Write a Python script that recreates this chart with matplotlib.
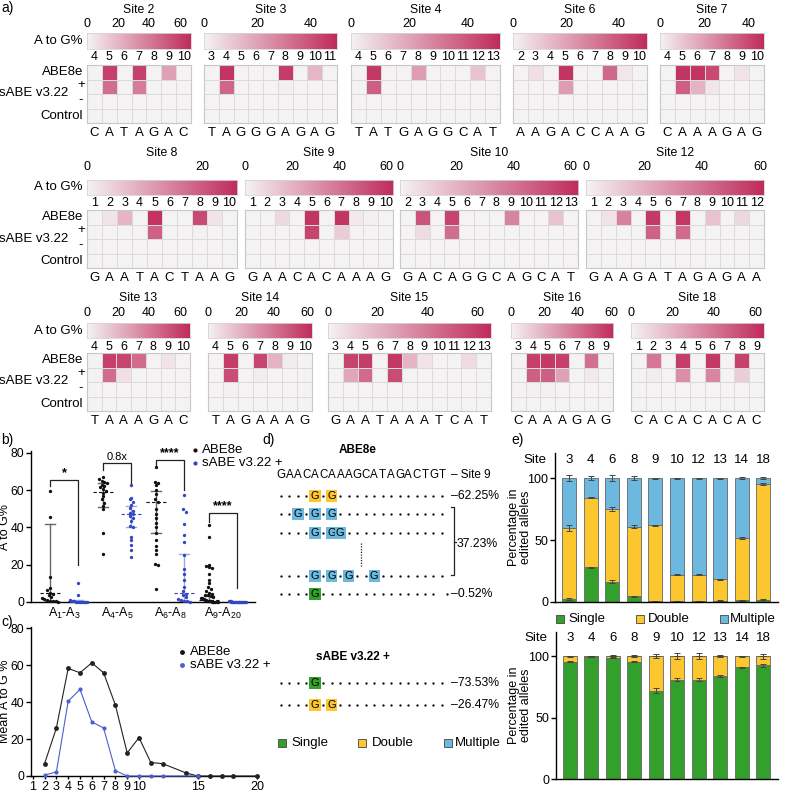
import matplotlib
matplotlib.use("Agg")
import matplotlib.pyplot as plt
import numpy as np
from matplotlib.colors import LinearSegmentedColormap

plt.rcParams["font.family"] = ["Liberation Sans", "DejaVu Sans"]
plt.rcParams["mathtext.fontset"] = "custom"
plt.rcParams["mathtext.rm"] = "Liberation Sans"
plt.rcParams["mathtext.it"] = "Liberation Sans:italic"

# ---------------- panel a: A to G % per position ----------------
site_names = ["Site 2", "Site 3", "Site 4", "Site 6", "Site 7",
              "Site 8", "Site 9", "Site 10", "Site 12",
              "Site 13", "Site 14", "Site 15", "Site 16", "Site 18"]
site_first_pos = [4, 3, 4, 2, 4, 1, 1, 2, 1, 4, 4, 3, 3, 1]
site_vmax = [67, 50, 51, 50.5, 47, 26, 62.6, 62.8, 61.4, 66.5, 63, 65.6, 61, 64]
site_seq = ["CATAGAC", "TAGGGAGAG", "TATGAGGCAT", "AAGACCAAG", "CAAAGAG",
            "GAATACTAAG", "GAACACAAAG", "GACAGGCAGCAT", "GAAGATAGAGAA",
            "TAAAGAC", "TAGAAAG", "GAATAAATCAT", "CAAAGAG", "CACACACAC"]
abe8e = [
    [0, 60, 0, 60, 0, 28, 0],
    [0, 48, 0, 0, 0, 46, 0, 15, 0],
    [0, 48, 0, 0, 22, 0, 0, 0, 12, 0],
    [0, 5, 0, 48, 0, 0, 35, 3, 0],
    [0, 45, 45, 40, 0, 4, 0],
    [0, 2, 8, 0, 25, 0, 0, 22, 2, 0],
    [0, 0, 8, 0, 60, 0, 60, 3, 1, 0],
    [0, 50, 0, 55, 0, 0, 0, 35, 0, 0, 15, 0],
    [0, 5, 35, 0, 57, 0, 58, 0, 15, 0, 8, 0],
    [0, 60, 58, 45, 0, 5, 0],
    [0, 58, 0, 55, 20, 2, 0],
    [0, 58, 60, 0, 62, 20, 5, 0, 0, 8, 0],
    [0, 55, 57, 55, 0, 40, 0],
    [0, 40, 0, 58, 0, 60, 0, 57, 0],
]
sabe_plus = [
    [0, 45, 0, 40, 0, 0, 0],
    [0, 35, 0, 0, 0, 1, 0, 0, 0],
    [0, 38, 0, 0, 0, 0, 0, 0, 0, 0],
    [0, 0, 0, 22, 0, 0, 0, 0, 0],
    [0, 35, 15, 3, 0, 0, 0],
    [0, 0, 0, 0, 19, 0, 0, 0.5, 0, 0],
    [0, 0, 0, 0, 55, 0, 12, 0, 0, 0],
    [0, 7, 0, 42, 0, 0, 0, 0, 0, 0, 0, 0],
    [0, 0, 0, 0, 45, 0, 42, 0, 0, 0, 0, 0],
    [0, 45, 6, 0, 0, 0, 0],
    [0, 52, 0, 2, 0, 0, 0],
    [0, 25, 45, 0, 55, 0, 0, 0, 0, 0, 0],
    [0, 45, 45, 25, 0, 3, 0],
    [0, 2, 0, 32, 0, 35, 0, 12, 0],
]
sabe_minus = [
    [0, 0, 0, 0, 0, 0, 0],
    [0, 0, 0, 0, 0, 0, 0, 0, 0],
    [0, 0, 0, 0, 0, 0, 0, 0, 0, 0],
    [0, 0, 0, 0, 0, 0, 0, 0, 0],
    [0, 0, 0, 0, 0, 0, 0],
    [0, 0, 0, 0, 0, 0, 0, 0, 0, 0],
    [0, 0, 0, 0, 0, 0, 0, 0, 0, 0],
    [0, 0, 0, 0, 0, 0, 0, 0, 0, 0, 0, 0],
    [0, 0, 0, 0, 0, 0, 0, 0, 0, 0, 0, 0],
    [0, 0, 0, 0, 0, 0, 0],
    [0, 1, 0, 0, 0, 0, 0],
    [0, 0, 0, 0, 0, 0, 0, 0, 0, 0, 0],
    [0, 1, 1, 0, 0, 0, 0],
    [0, 0, 0, 0, 0, 0, 0, 0, 0],
]
control = [[0] * len(s) for s in site_seq]
row_labels = ["ABE8e", "+", "sABE v3.22", "-", "Control"]

# ---------------- panel b ----------------
b_categories = ["A$_1$-A$_3$", "A$_4$-A$_5$", "A$_6$-A$_8$", "A$_9$-A$_{20}$"]
b_abe8e = [
    [59.5, 45.5, 13.5, 7.5, 6.5, 5.0, 4.5, 3.5, 2.5, 2.0, 1.5, 1.0, 0.8, 0.5, 0.3, 0.2],
    [67.0, 66.0, 65.0, 64.5, 64.0, 63.0, 62.0, 61.5, 60.5, 59.5, 58.5, 57.0, 55.0, 53.0,
     51.5, 50.0, 37.0, 25.5],
    [72.5, 64.5, 64.0, 63.0, 60.0, 58.0, 55.0, 53.5, 50.0, 47.0, 45.0, 42.5, 40.0, 37.0,
     33.0, 30.0, 28.0, 26.0, 20.5, 20.0, 7.0],
    [41.5, 35.0, 20.0, 19.5, 19.0, 18.0, 15.0, 12.0, 10.0, 8.0, 7.0, 6.0, 5.0, 4.5, 4.0,
     3.5, 3.0, 2.5, 2.0, 2.0, 1.5, 1.5, 1.0, 1.0, 0.8, 0.6, 0.5, 0.4, 0.3, 0.2, 0.1, 0.1,
     0.0, 0.0, 0.0],
]
b_sabe = [
    [10.0, 3.5, 1.0, 0.6, 0.4, 0.3, 0.2, 0.1, 0.1, 0.0, 0.0, 0.0, 0.0, 0.0],
    [62.5, 56.0, 55.0, 53.5, 52.0, 50.5, 49.0, 48.0, 47.0, 46.0, 45.0, 43.5, 41.0, 40.0,
     35.0, 33.0, 30.5, 28.0, 24.0],
    [57.5, 50.0, 48.5, 42.0, 36.0, 32.0, 25.0, 17.5, 15.0, 12.0, 8.0, 6.0, 4.5, 3.5, 2.5,
     1.5, 1.0, 0.5, 0.3, 0.1],
    [0.4, 0.3, 0.3, 0.2, 0.2, 0.2, 0.1, 0.1, 0.1, 0.1, 0.0, 0.0, 0.0, 0.0, 0.0, 0.0, 0.0,
     0.0, 0.0, 0.0],
]
# median, lower, upper
b_abe8e_stats = [(5.0, 0.3, 42.0), (59.2, 51.0, 63.8), (53.4, 36.8, 59.7), (1.0, 0.2, 3.0)]
b_sabe_stats = [(0.3, 0.0, 1.0), (47.0, 40.4, 51.5), (5.0, 0.5, 26.0), (0.1, 0.0, 0.2)]
b_br_top = [65.4, 74.4, 76.0, 47.5]
b_br_left = [62.0, 71.0, 73.3, 43.0]
b_br_right = [19.8, 62.2, 60.0, 7.5]
b_br_label = ["*", "0.8x", "****", "****"]

# ---------------- panel c ----------------
c_pos_abe = [2, 3, 4, 5, 6, 7, 8, 9, 10, 11, 12, 14, 15, 16, 17, 18, 20]
c_mean_abe = [6.7, 26.0, 58.3, 55.9, 61.3, 55.9, 38.4, 12.5, 20.8, 7.3, 6.7, 1.6,
              0, 0, 0, 0, 0]
c_pos_sabe = [2, 3, 4, 5, 6, 7, 8, 9, 10, 11, 12, 15]
c_mean_sabe = [0.5, 2.2, 40.5, 46.9, 29.3, 26.0, 2.9, 0, 0, 0, 0, 0]

# ---------------- panel d ----------------
d_seq = "GAACACAAAGCATAGACTGT"
d_abe_edits = [[5, 7], [3, 5, 7], [5, 7, 8], [5, 7, 9, 12], [5]]
d_abe_kind = ["Double", "Multiple", "Multiple", "Multiple", "Single"]
d_abe_pct = ["62.25%", "", "", "", "0.52%"]
d_multi_pct = "37.23%"
d_sabe_edits = [[5], [5, 7]]
d_sabe_kind = ["Single", "Double"]
d_sabe_pct = ["73.53%", "26.47%"]

# ---------------- panel e ----------------
e_sites = ["3", "4", "6", "8", "9", "10", "12", "13", "14", "18"]
e_top_single = [2.5, 28.0, 16.5, 4.5, 0.5, 0.5, 0.5, 1.0, 1.5, 2.0]
e_top_double = [57.5, 56.5, 58.5, 56.5, 61.5, 21.5, 21.5, 17.5, 50.0, 93.5]
e_top_multi = [40.0, 15.5, 25.0, 39.0, 38.0, 78.0, 78.0, 81.5, 48.5, 4.5]
e_top_err = [[0.5, 0.5, 1.5, 0.5, 0.3, 0.3, 0.3, 0.3, 0.3, 0.5],
             [2.5, 0.5, 1.5, 1.5, 0.5, 0.5, 0.5, 0.5, 0.8, 1.0],
             [2.5, 1.5, 2.5, 1.5, 0.5, 0.5, 0.5, 0.5, 0.8, 0.8]]
e_bot_single = [95.5, 99.5, 98.5, 95.5, 72.0, 81.0, 81.0, 84.0, 91.0, 92.5]
e_bot_double = [4.5, 0.5, 1.5, 4.5, 28.0, 19.0, 19.0, 16.0, 9.0, 7.5]
e_bot_multi = [0, 0, 0, 0, 0, 0, 0, 0, 0, 0]
e_bot_err = [[0.5, 0.3, 0.3, 0.5, 2.0, 1.5, 1.5, 0.5, 0.3, 1.5],
             [0.5, 0.3, 1.0, 1.0, 1.5, 2.5, 2.5, 0.8, 0.5, 2.0],
             [0, 0, 0, 0, 0, 0, 0, 0, 0, 0]]

kind_colors = {"Single": "#33a02c", "Double": "#fcc72e", "Multiple": "#6cb8de"}

# ---------------- figure ----------------
W, H = 796, 792
fig = plt.figure(figsize=(W / 100, H / 100), dpi=100)


def px_axes(x0, y0, x1, y1):
    return fig.add_axes([x0 / W, 1 - y1 / H, (x1 - x0) / W, (y1 - y0) / H])


# layout of the heatmap panel (pixels)
site_px = [(87, 191), (204, 337), (351, 500), (513, 647), (660, 764),
           (87, 237), (245, 393), (400, 578), (586, 764),
           (87, 190), (208, 312), (328, 491), (511, 613), (631, 764)]
site_row = [0, 0, 0, 0, 0, 1, 1, 1, 1, 2, 2, 2, 2, 2]
# title, cbar ticks, cbar top, cbar bottom, positions, heat top, heat bottom, sequence
row_geom = [(10, 24, 33, 49, 57, 65, 123, 133),
            (153, 167, 180, 195, 203, 210, 268, 278),
            (298, 313, 323, 338, 347, 353, 411, 421)]

cmap_a = LinearSegmentedColormap.from_list("atog", ["#f5f2f3", "#c02c5b"])

for k, name in enumerate(site_names):
    ty, tky, cbt, cbb, posy, hmt, hmb, seqy = row_geom[site_row[k]]
    x0, x1 = site_px[k]
    vmax = site_vmax[k]
    n = len(site_seq[k])
    positions = np.arange(site_first_pos[k], site_first_pos[k] + n)

    cax = px_axes(x0, cbt, x1, cbb)
    grad = np.linspace(0, vmax, 256)[None, :]
    cax.imshow(grad, cmap=cmap_a, vmin=0, vmax=vmax, aspect="auto",
               extent=[0, vmax, 0, 1])
    cax.set_xlim(0, vmax)
    cax.set_ylim(0, 1)
    cax.set_xticks([])
    cax.set_yticks([])
    for sp in cax.spines.values():
        sp.set_color("#d4d4d4")
        sp.set_linewidth(0.6)
    off = (cbt - tky) / (cbb - cbt)
    for t in np.arange(0, vmax + 0.01, 20):
        cax.text(t, 1 + off, f"{t:.0f}", transform=cax.get_xaxis_transform(),
                 ha="center", va="center", fontsize=9)
    cax.text(0.5, 1 + (cbt - ty) / (cbb - cbt), name, transform=cax.transAxes,
             ha="center", va="center", fontsize=8.8)

    ax = px_axes(x0, hmt, x1, hmb)
    grid = np.array([abe8e[k], sabe_plus[k], sabe_minus[k], control[k]], float)
    edges = np.arange(n + 1) + site_first_pos[k] - 0.5
    ax.pcolormesh(edges, np.arange(5), grid, cmap=cmap_a, vmin=0, vmax=vmax,
                  edgecolors="#dadada", linewidth=0.6)
    ax.set_xlim(edges[0], edges[-1])
    ax.set_ylim(4, 0)
    ax.set_xticks([])
    ax.set_yticks([])
    for sp in ax.spines.values():
        sp.set_color("#c8c8c8")
        sp.set_linewidth(0.8)
    hh = hmb - hmt
    for p, ch in zip(positions, site_seq[k]):
        ax.text(p, 1 + (hmt - posy) / hh, str(p), transform=ax.get_xaxis_transform(),
                ha="center", va="center", fontsize=9)
        ax.text(p, -(seqy - hmb) / hh, ch, transform=ax.get_xaxis_transform(),
                ha="center", va="center", fontsize=9.5)

# overlay axes for free text (pixel coordinates)
ov = fig.add_axes([0, 0, 1, 1], zorder=10)
ov.set_xlim(0, W)
ov.set_ylim(H, 0)
ov.axis("off")

label_dy = [7.3, 20, 28.5, 35.5, 51]
label_x = [83, 81, 68, 81, 83]
label_ha = ["right", "center", "right", "center", "right"]
for r, (ty, tky, cbt, cbb, posy, hmt, hmb, seqy) in enumerate(row_geom):
    ov.text(82, (cbt + cbb) / 2, "A to G%", ha="right", va="center", fontsize=9.5)
    for lab, dy, lx, ha in zip(row_labels, label_dy, label_x, label_ha):
        ov.text(lx, hmt + dy, lab, ha=ha, va="center", fontsize=9.5)

for lab, (lx, ly) in zip(["a)", "b)", "c)", "d)", "e)"],
                         [(1, 8), (1, 440), (1, 622), (262, 440), (511, 440)]):
    ov.text(lx, ly, lab, ha="left", va="center", fontsize=10)


def style_xy(ax):
    for s in ["top", "right"]:
        ax.spines[s].set_visible(False)
    for s in ["left", "bottom"]:
        ax.spines[s].set_linewidth(1.0)
    ax.tick_params(length=3.5, width=1, labelsize=8.8, pad=1.5)


def swarm(values, step=0.055, vbin=2.2, maxw=0.32):
    values = np.asarray(values, float)
    offs = np.zeros(len(values))
    keys = np.floor(values / vbin).astype(int)
    for key in np.unique(keys):
        idx = np.where(keys == key)[0]
        m = len(idx)
        if m > 1:
            w = min((m - 1) * step, maxw)
            offs[idx] = np.linspace(-w / 2, w / 2, m)
    return offs


# ---------------- panel b ----------------
axb = px_axes(31, 451, 255, 602)
style_xy(axb)
axb.set_xlim(0.377, 4.6)
axb.set_ylim(0, 81)
axb.set_yticks([0, 20, 40, 60, 80])
axb.set_xticks([1, 2, 3, 4])
axb.set_xticklabels(b_categories)
axb.tick_params(axis="x", length=0, pad=3, labelsize=9)
dx = 0.265
for i in range(4):
    for vals, stats, sgn, col, ecol in [(b_abe8e[i], b_abe8e_stats[i], -1, "#111111", "#666666"),
                                        (b_sabe[i], b_sabe_stats[i], 1, "#3346c2", "#9aaae4")]:
        xc = i + 1 + sgn * dx
        med, lo, hi = stats
        axb.plot([xc, xc], [lo, hi], color=ecol, lw=1.0, zorder=1)
        axb.plot([xc - 0.09, xc + 0.09], [lo, lo], color=ecol, lw=1.0, zorder=1)
        axb.plot([xc - 0.09, xc + 0.09], [hi, hi], color=ecol, lw=1.0, zorder=1)
        axb.plot([xc - 0.19, xc + 0.19], [med, med], color=col, lw=0.8,
                 ls=(0, (3, 2)), zorder=2)
        axb.plot(xc + swarm(vals), vals, "o", ms=2.4, color=col, mew=0, zorder=3,
                 clip_on=False)
    xl, xr = i + 1 - dx, i + 1 + dx
    axb.plot([xl, xl, xr, xr], [b_br_left[i], b_br_top[i], b_br_top[i], b_br_right[i]],
             color="#222222", lw=0.9)
    axb.text((xl + xr) / 2, b_br_top[i] + 0.6, b_br_label[i], ha="center", va="bottom",
             fontsize=8 if b_br_label[i] == "0.8x" else 9, fontweight="bold"
             if b_br_label[i] != "0.8x" else "normal")
ov.text(5.5, 527, "A to G%", rotation=90, ha="center", va="center", fontsize=9)
ov.plot([195], [450], "o", ms=3, color="#111111", mew=0)
ov.text(202, 450, "ABE8e", ha="left", va="center", fontsize=9.5)
ov.plot([195], [463], "o", ms=3, color="#3346c2", mew=0)
ov.text(202, 463, "sABE v3.22 +", ha="left", va="center", fontsize=9.5)

# ---------------- panel c ----------------
axc = px_axes(31, 627, 258, 776)
style_xy(axc)
axc.set_xlim(0.85, 20.08)
axc.set_ylim(0, 80.7)
axc.set_yticks([0, 20, 40, 60, 80])
axc.set_xticks([1, 2, 3, 4, 5, 6, 7, 8, 9, 10, 15, 20])
axc.tick_params(axis="x", length=2.5, pad=1, labelsize=9)
axc.plot(c_pos_abe, c_mean_abe, "-o", color="#222222", lw=0.8, ms=3.5, mew=0,
         clip_on=False, zorder=3)
axc.plot(c_pos_sabe, c_mean_sabe, "-o", color="#4a5fd0", lw=0.8, ms=3, mew=0,
         clip_on=False, zorder=4)
ov.text(5.5, 701, "Mean A to G %", rotation=90, ha="center", va="center", fontsize=9)
ov.plot([182], [652], "o", ms=3.5, color="#111111", mew=0)
ov.text(190, 652, "ABE8e", ha="left", va="center", fontsize=9.5)
ov.plot([182], [665], "o", ms=3.5, color="#4a5fd0", mew=0)
ov.text(190, 665, "sABE v3.22 +", ha="left", va="center", fontsize=9.5)

# ---------------- panel d ----------------
step = 8.47
axd = px_axes(255, 425, 520, 765)
axd.set_xlim(1 + (255 - 281) / step, 1 + (520 - 281) / step)
axd.set_ylim(765, 425)
axd.axis("off")
seq_pos = np.arange(1, len(d_seq) + 1)
for p, ch in zip(seq_pos, d_seq):
    axd.text(p, 475, ch, ha="center", va="center", fontsize=8.3)
axd.text(21.1, 475, "– Site 9", ha="left", va="center", fontsize=8.5)


def allele_row(y, edits, kind, pct, last=20):
    dots = [p for p in seq_pos if p not in edits and p <= last]
    axd.plot(dots, [y] * len(dots), "o", ms=1.7, color="#111111", mew=0)
    for p in edits:
        axd.text(p, y, "G", ha="center", va="center", fontsize=8,
                 bbox=dict(boxstyle="square,pad=0.12", fc=kind_colors[kind], ec="none"))
    if pct:
        axd.text(21.1, y, "–" + pct, ha="left", va="center", fontsize=8.8)


axd.text(10, 450, "ABE8e", ha="center", va="center", fontsize=8.5, fontweight="bold")
abe_rows_y = [496, 514, 533, 576, 594]
for y, ed, kind, pct in zip(abe_rows_y, d_abe_edits, d_abe_kind, d_abe_pct):
    allele_row(y, ed, kind, pct, last=19 if pct == d_abe_pct[-1] else 20)
axd.plot([20.6], [594], "o", ms=1.7, color="#111111", mew=0)
axd.plot([10.4, 10.4], [543, 567], color="#222222", lw=0.9, ls=(0, (1, 1.2)))
bx = 21.4
axd.plot([bx - 0.35, bx, bx, bx - 0.35], [507, 507, 575, 575], color="#222222", lw=0.9)
axd.plot([bx, bx + 0.3], [542, 542], color="#222222", lw=0.9)
axd.text(bx + 0.35, 544, d_multi_pct, ha="left", va="center", fontsize=8.8)

axd.text(9.5, 657, "sABE v3.22 +", ha="center", va="center", fontsize=8.5,
         fontweight="bold")
for y, ed, kind, pct in zip([683, 705], d_sabe_edits, d_sabe_kind, d_sabe_pct):
    allele_row(y, ed, kind, pct)

for (sx, tx), kind in zip([(282, 291), (361.5, 372), (447.5, 455)],
                          ["Single", "Double", "Multiple"]):
    ov.plot([sx], [743], "s", ms=6, mfc=kind_colors[kind], mec="#444444", mew=0.6)
    ov.text(tx, 743, kind, ha="left", va="center", fontsize=9.5)

# ---------------- panel e ----------------


def stacked(ax, single, double, multi, errs, ytop):
    x = np.arange(len(e_sites))
    b1 = np.array(single, float)
    b2 = b1 + np.array(double, float)
    b3 = b2 + np.array(multi, float)
    kw = dict(width=0.65, edgecolor="#666666", linewidth=0.6)
    ax.bar(x, single, color=kind_colors["Single"], **kw)
    ax.bar(x, double, bottom=b1, color=kind_colors["Double"], **kw)
    ax.bar(x, multi, bottom=b2, color=kind_colors["Multiple"], **kw)
    for yv, er in zip([b1, b2, b3], errs):
        ax.errorbar(x, yv, yerr=er, fmt="none", ecolor="#444444", elinewidth=0.7,
                    capsize=2.5, capthick=0.7)
    for s in ["top", "right"]:
        ax.spines[s].set_visible(False)
    for s in ["left", "bottom"]:
        ax.spines[s].set_linewidth(1.0)
    ax.set_xlim(-0.65, 9.68)
    ax.set_ylim(0, ytop)
    ax.set_yticks([0, 50, 100])
    ax.set_xticks([])
    ax.tick_params(axis="y", length=3.5, width=1, labelsize=9, pad=1.5)
    for i, s in enumerate(e_sites):
        ax.text(i, 114.8, s, ha="center", va="center", fontsize=9.5)
    ax.text(-1.57, 114.8, "Site", ha="center", va="center", fontsize=9.5, clip_on=False)


axe1 = px_axes(555, 453, 778, 602)
stacked(axe1, e_top_single, e_top_double, e_top_multi, e_top_err, 120.5)
axe2 = px_axes(556, 632, 778, 779.3)
stacked(axe2, e_bot_single, e_bot_double, e_bot_multi, e_bot_err, 119.7)
for yc in [527, 705]:
    ov.text(520, yc, "Percentage in\nedited alleles", rotation=90, ha="center",
            va="center", fontsize=9, linespacing=1.0)
for (sx, tx), kind in zip([(559.5, 568), (639.5, 648), (723.5, 730)],
                          ["Single", "Double", "Multiple"]):
    ov.plot([sx], [619], "s", ms=6, mfc=kind_colors[kind], mec="#444444", mew=0.6)
    ov.text(tx, 619, kind, ha="left", va="center", fontsize=9.5)

fig.savefig("out.png", dpi=100)
